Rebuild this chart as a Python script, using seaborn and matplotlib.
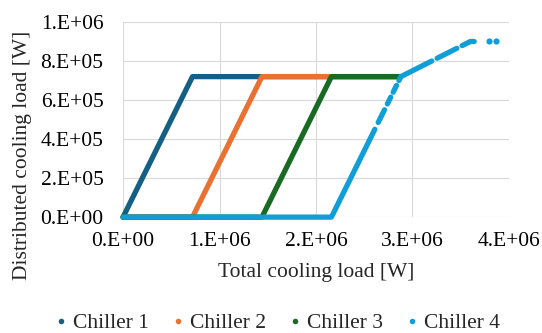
import pandas as pd
import numpy as np
import matplotlib
matplotlib.use('Agg')
import matplotlib.pyplot as plt
from matplotlib.lines import Line2D
from matplotlib.ticker import FuncFormatter, MultipleLocator
import seaborn as sns

# 数据：各冷机的折线顶点（按段划分，段之间有空隙）
names = ['Chiller 1', 'Chiller 2', 'Chiller 3', 'Chiller 4']
colors = ['#156082', '#E97132', '#196B24', '#0F9ED5']

c1_x = [0, 0.72e6, 2.88e6]
c1_y = [0, 7.2e5, 7.2e5]
c2_x = [0, 0.72e6, 1.44e6, 2.88e6]
c2_y = [0, 0, 7.2e5, 7.2e5]
c3_x = [0, 1.44e6, 2.16e6, 2.88e6]
c3_y = [0, 0, 7.2e5, 7.2e5]
c4_segments_x = [
    [0, 2.16e6, 2.61e6],
    [2.645e6, 2.71e6],
    [2.74e6, 2.775e6],
    [2.80e6, 2.835e6],
    [2.86e6, 2.88e6, 3.2e6],
    [3.255e6, 3.46e6],
    [3.515e6, 3.6e6, 3.64e6],
]
c4_segments_y = [
    [0, 0, 4.5e5],
    [4.85e5, 5.5e5],
    [5.8e5, 6.15e5],
    [6.4e5, 6.75e5],
    [7.0e5, 7.2e5, 8.0e5],
    [8.14e5, 8.65e5],
    [8.79e5, 9.0e5, 9.0e5],
]
c4_dots_x = [3.79e6, 3.87e6]
c4_dots_y = [9.0e5, 9.0e5]

rows = []
for name, xs, ys in [(names[0], c1_x, c1_y), (names[1], c2_x, c2_y), (names[2], c3_x, c3_y)]:
    for x, y in zip(xs, ys):
        rows.append((name, name + '_0', x, y))
for i, (xs, ys) in enumerate(zip(c4_segments_x, c4_segments_y)):
    for x, y in zip(xs, ys):
        rows.append((names[3], f'{names[3]}_{i}', x, y))
df = pd.DataFrame(rows, columns=['chiller', 'seg', 'x', 'y'])
dots = pd.DataFrame({'x': c4_dots_x, 'y': c4_dots_y})

sns.set_style('white')
plt.rcParams['font.family'] = ['Liberation Serif', 'DejaVu Serif']
fs = 15.5

fig = plt.figure(figsize=(5.42, 3.33), dpi=100)
ax = fig.add_axes([0.227, 0.348, 0.712, 0.586])

pal = dict(zip(names, colors))
sns.lineplot(data=df, x='x', y='y', hue='chiller', units='seg', estimator=None,
             sort=False, palette=pal, linewidth=3.8, legend=False, ax=ax,
             solid_capstyle='round', clip_on=False, zorder=3)
sns.scatterplot(data=dots, x='x', y='y', color=colors[3], s=20, linewidth=0,
                ax=ax, clip_on=False, zorder=3)

ax.set_xlim(0, 4e6)
ax.set_ylim(0, 1e6)
ax.xaxis.set_major_locator(MultipleLocator(1e6))
ax.yaxis.set_major_locator(MultipleLocator(2e5))
fmt = FuncFormatter(lambda v, p: format(v, '#.0E'))
ax.xaxis.set_major_formatter(fmt)
ax.yaxis.set_major_formatter(fmt)
ax.grid(True, color='#D9D9D9', linewidth=0.8)
ax.set_axisbelow(True)
for s in ax.spines.values():
    s.set_visible(False)
ax.tick_params(axis='both', length=0, labelsize=fs, colors='black')
ax.tick_params(axis='x', pad=11)
ax.tick_params(axis='y', pad=14)

ax.set_xlabel('Total cooling load [W]', fontsize=fs)
ax.set_ylabel('Distributed cooling load [W]', fontsize=fs)
ax.xaxis.set_label_coords(0.5, -0.235)
ax.yaxis.set_label_coords(-0.236, 0.318)

handles = [Line2D([], [], linestyle='none', marker='o', markersize=4,
                  markerfacecolor=c, markeredgewidth=0) for c in colors]
fig.legend(handles, names, loc='center', bbox_to_anchor=(278 / 542, 1 - 323 / 333),
           ncol=4, frameon=False, fontsize=fs, handlelength=0.5,
           handletextpad=0.3, columnspacing=1.1, borderaxespad=0)

fig.savefig('out.png', dpi=100)
